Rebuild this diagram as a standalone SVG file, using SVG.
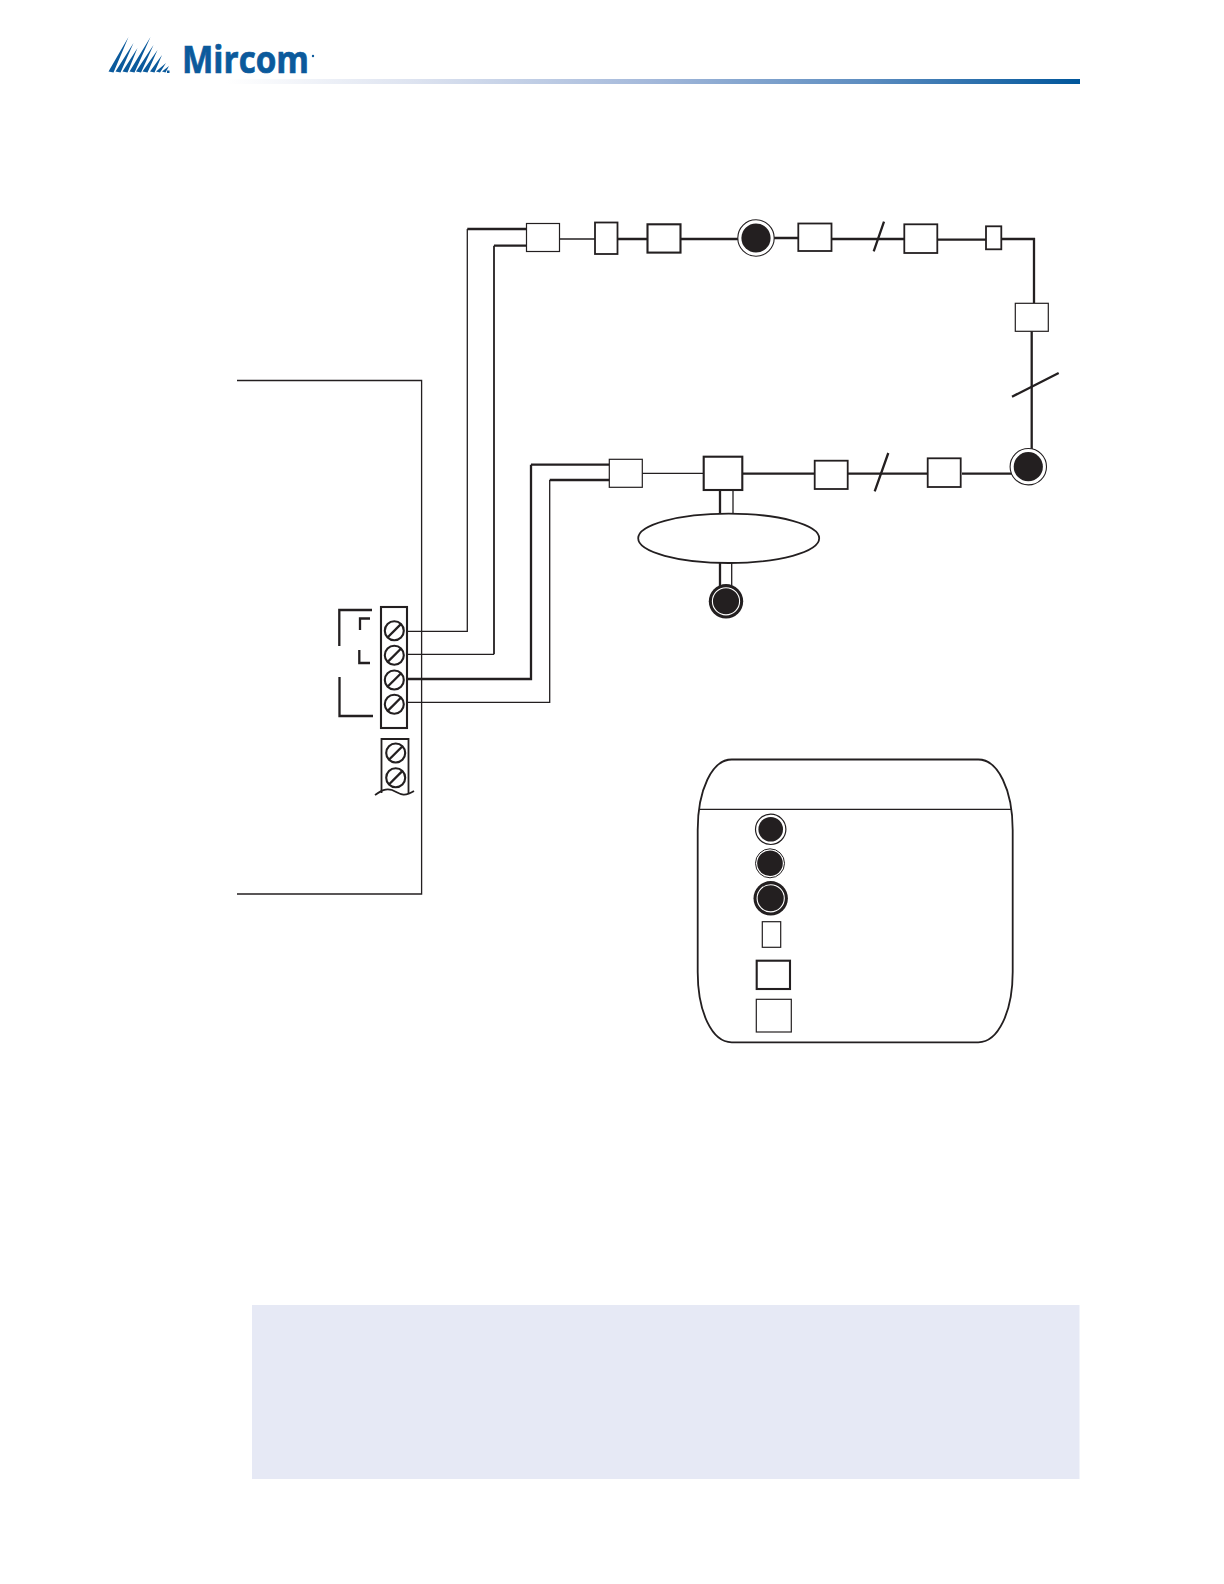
<svg xmlns="http://www.w3.org/2000/svg" width="1224" height="1584" viewBox="0 0 1224 1584">
<style>
.l{fill:none;stroke:#231f20;stroke-width:1.3}
.m{fill:none;stroke:#231f20;stroke-width:1.8}
.h{fill:none;stroke:#231f20;stroke-width:2.3}
.b{fill:#fff;stroke:#231f20;stroke-width:1.2}
.bm{fill:#fff;stroke:#231f20;stroke-width:1.8}
.s{fill:#fff;stroke:#231f20;stroke-width:2.1}
</style>
<defs>
<linearGradient id="hdr" x1="0" x2="1" y1="0" y2="0">
<stop offset="0" stop-color="#ffffff"/><stop offset="0.22" stop-color="#dde3f0"/><stop offset="0.5" stop-color="#a3b8da"/><stop offset="0.75" stop-color="#5d8dc0"/><stop offset="1" stop-color="#00569b"/>
</linearGradient>
<g id="screw"><circle r="9.5" class="s"/><line x1="-6.8" y1="6.8" x2="6.8" y2="-6.8" class="h"/></g>
<g id="dev"><circle r="18.2" fill="#fff" stroke="#231f20" stroke-width="1.1"/><circle r="14.6" fill="#231f20"/></g>
<g id="ring"><circle r="17.2" fill="#231f20"/><circle r="13.6" fill="#231f20" stroke="#fff" stroke-width="1.1"/></g>
</defs>
<g id="header">
<path id="logo-mark" fill="#0b5a9c" d="M108.500 71.500L128.500 37L113.500 72.500ZM115.500 71.500L133.500 43L120.500 72.500ZM122.500 71.500L137.500 48L127.500 72.500ZM129.500 71.500L150.500 37L134.500 72.500ZM136 71.500L153.500 45L141 72.500ZM142.500 71.500L157.500 50L147.500 72.500ZM150 71.500L162 55L154.500 72.500ZM156 71.500L166 63L160 72.500ZM162 71.500L169 66L165.500 72.500ZM167 70.500H169.500V73H167Z"/>
<text x="182" y="73.300" font-family="'Open Sans','Liberation Sans',sans-serif" font-weight="700" font-size="37" fill="#0b5a9c" stroke="#0b5a9c" stroke-width="0.7" textLength="127" lengthAdjust="spacingAndGlyphs">Mircom</text>
<circle cx="313" cy="56" r="1.200" fill="#0b5a9c"/>
<rect x="226" y="79" width="854" height="5" fill="url(#hdr)"/>
</g>
<g id="connectors">
<path class="h" d="M527 229H467.300M527 245.700H494M610 464.700H531M610 480H549.700"/>
<path class="l" d="M467.300 229V631.300H405"/>
<path class="m" d="M494 245.700V654.300"/>
<path class="l" d="M494 654.300H405"/>
<path class="h" d="M531 464.700V679H405"/>
<path class="l" d="M549.700 480V702.300H405"/>
<path class="l" d="M559 239H595"/>
<path class="h" d="M617 239H648M680 239H738M774 238H798M832 239H904M937 239.700H986M1001 239H1035M1034 238V303M1031.700 331V450M1012 473.700H962M927 473.700H848M815 473.700H742"/>
<path class="l" d="M642 473.300H704"/>
<path class="h" d="M873.700 251.300L884 221.700M1012 396.700L1058.700 373M874.700 491.300L888.300 453"/>
<path class="h" d="M720 490V514M720 563V590"/>
<path class="l" d="M733 490V514M731.700 563V590"/>
</g>
<g id="panel"><path class="l" d="M237 380.500H421.600V894H237"/></g>
<g id="terminal-main">
<rect x="381" y="607" width="26" height="121" class="s"/>
<use href="#screw" x="394.300" y="630.700"/><use href="#screw" x="394.300" y="655.300"/><use href="#screw" x="394.300" y="680"/><use href="#screw" x="394.300" y="704.300"/>
</g>
<g id="terminal-aux">
<path class="m" d="M381.500 793V739H408.500V793"/>
<use href="#screw" x="395.700" y="753"/><use href="#screw" x="395.700" y="777.700"/>
<path class="m" d="M375 795C381 791 385 788 392 790C399 793 403 798 414 791"/>
</g>
<g id="brackets">
<path class="h" d="M372 610H339.300V646M339.500 677V716H373"/>
<path class="h" d="M370 618.500H360V630M359.300 650V663H370"/>
</g>
<g id="d1"><rect x="526.500" y="223.500" width="33" height="28" class="b"/></g>
<g id="d2"><rect x="595" y="222.500" width="22.500" height="31.500" class="bm"/></g>
<g id="d3"><rect x="647.500" y="224.300" width="33" height="28.300" class="s"/></g>
<g id="d4"><use href="#dev" x="756" y="238"/></g>
<g id="d5"><rect x="798.300" y="223.500" width="33.200" height="27.500" class="bm"/></g>
<g id="d6"><rect x="904.300" y="224.300" width="33" height="28.700" class="bm"/></g>
<g id="d7"><rect x="986" y="226.300" width="15.300" height="23" class="bm"/></g>
<g id="d8"><rect x="1015.300" y="303.300" width="33" height="28" class="b"/></g>
<g id="d9"><use href="#dev" x="1028.300" y="466.700"/></g>
<g id="d10"><rect x="927.700" y="458.300" width="33" height="28.700" class="bm"/></g>
<g id="d11"><rect x="814.700" y="460.700" width="33" height="28.300" class="bm"/></g>
<g id="d12"><rect x="703.700" y="456.700" width="38.600" height="33.300" class="s"/></g>
<g id="d13"><rect x="609.300" y="459.300" width="33" height="28" class="b"/></g>
<g id="network"><ellipse cx="728.700" cy="538.300" rx="90.500" ry="24.700" class="bm"/></g>
<g id="d14"><use href="#ring" x="726" y="601.300"/></g>
<g id="legend">
<path class="m" fill="#fff" d="M731.700 759.500H978.300C998 759.500 1012.700 790 1012.700 830V972C1012.700 1012 998 1042.300 978.300 1042.300H731.700C712 1042.300 697.700 1012 697.700 972V830C697.700 790 712 759.500 731.700 759.500Z"/>
<path class="l" d="M699 809.300H1012"/>
<g id="legend-1"><circle cx="770.700" cy="829.300" r="15.200" fill="#fff" stroke="#231f20" stroke-width="1.200"/><circle cx="770.700" cy="829.300" r="12.300" fill="#231f20"/></g>
<g id="legend-2"><circle cx="770" cy="863.300" r="14.500" fill="#fff" stroke="#231f20" stroke-width="1"/><circle cx="770" cy="863.300" r="12.800" fill="#231f20"/></g>
<g id="legend-3"><use href="#ring" x="770.700" y="898.300"/></g>
<g id="legend-4"><rect x="762.300" y="921.700" width="18.400" height="25.600" class="b"/></g>
<g id="legend-5"><rect x="756.700" y="960.700" width="33.300" height="28.300" class="s"/></g>
<g id="legend-6"><rect x="756.300" y="999.300" width="35" height="32.700" class="b"/></g>
</g>
<g id="note"><rect x="252" y="1305" width="827.500" height="174" fill="#e6e9f5"/></g>
</svg>
